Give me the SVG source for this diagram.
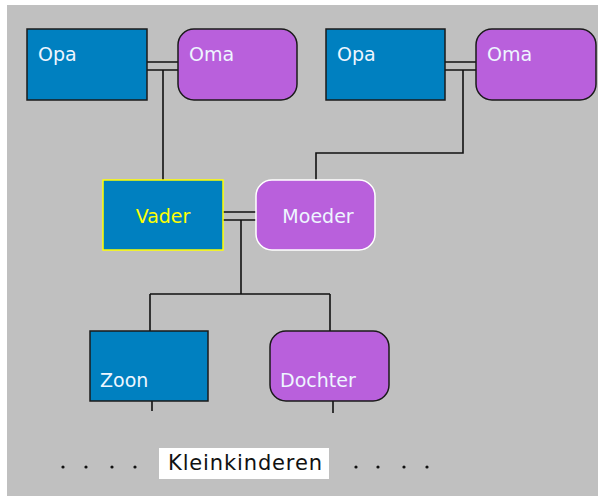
<svg xmlns="http://www.w3.org/2000/svg" width="598" height="496" viewBox="0 0 598 496">
<style>
.man{fill:#0080c0;stroke:#1a1a1a;stroke-width:1.5}
.woman{fill:#b960dc;stroke:#1a1a1a;stroke-width:1.5}
.lbl{font-family:"DejaVu Sans",sans-serif;font-size:19px;fill:#eef6ff}
.ln{stroke:#111;stroke-width:1.6;fill:none}
.dot{fill:#111}
</style>
<rect x="0" y="0" width="598" height="496" fill="#ffffff"/>
<rect x="7" y="5" width="591" height="491" fill="#c0c0c0"/>
<g id="connectors">
<path class="ln" d="M147 62H178M147 70H178M163 70V180"/>
<path class="ln" d="M445 62H476M445 70H476M463 70V153H316V180"/>
<path class="ln" d="M223 212H256M223 220H256M241 220V294M150 294H330M150 294V331M330 294V331"/>
<path class="ln" d="M152 401V411M333 401V413"/>
</g>
<g id="opa1"><rect class="man" x="27" y="29" width="120" height="71"/><text class="lbl" x="38" y="61">Opa</text></g>
<g id="oma1"><rect class="woman" x="178" y="29" width="119" height="71" rx="16"/><text class="lbl" x="189" y="61">Oma</text></g>
<g id="opa2"><rect class="man" x="326" y="29" width="119" height="71"/><text class="lbl" x="337" y="61">Opa</text></g>
<g id="oma2"><rect class="woman" x="476" y="29" width="120" height="71" rx="16"/><text class="lbl" x="487" y="61">Oma</text></g>
<g id="vader"><rect x="103" y="180" width="120" height="70" fill="#0080c0" stroke="#ffff00" stroke-width="1.5"/><text class="lbl" x="163" y="223" text-anchor="middle" style="fill:#ffff00">Vader</text></g>
<g id="moeder"><rect x="256" y="180" width="119" height="70" rx="16" fill="#b960dc" stroke="#ffffff" stroke-width="1.5"/><text class="lbl" x="318" y="223" text-anchor="middle">Moeder</text></g>
<g id="zoon"><rect class="man" x="90" y="331" width="118" height="70"/><text class="lbl" x="100" y="387">Zoon</text></g>
<g id="dochter"><rect class="woman" x="270" y="331" width="119" height="70" rx="16"/><text class="lbl" x="280" y="387">Dochter</text></g>
<g id="kleinkinderen">
<rect x="159" y="448" width="170" height="31" fill="#ffffff"/>
<text x="168" y="470" style="font-family:'DejaVu Sans',sans-serif;font-size:21px;fill:#111" textLength="154">Kleinkinderen</text>
</g>
<g id="dots">
<circle class="dot" cx="63" cy="467" r="1.6"/><circle class="dot" cx="86" cy="467" r="1.6"/><circle class="dot" cx="112" cy="467" r="1.6"/><circle class="dot" cx="135" cy="467" r="1.6"/>
<circle class="dot" cx="356" cy="467" r="1.6"/><circle class="dot" cx="378" cy="467" r="1.6"/><circle class="dot" cx="404" cy="467" r="1.6"/><circle class="dot" cx="427" cy="467" r="1.6"/>
</g>
</svg>
